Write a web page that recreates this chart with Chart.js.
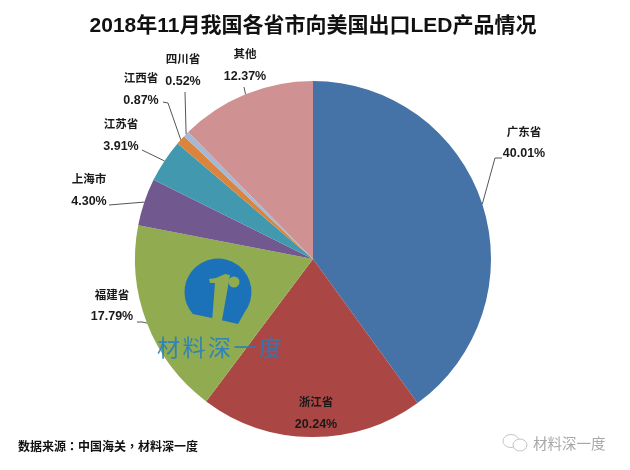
<!DOCTYPE html>
<html><head><meta charset="utf-8">
<style>html,body{margin:0;padding:0;background:#fff}#w{width:630px;height:470px;position:relative}</style>
<script src="https://cdn.jsdelivr.net/npm/chart.js@4"></script>
</head><body><div id="w"><canvas id="c" width="630" height="470"></canvas></div>
<script>
const titleText = '2018年11月我国各省市向美国出口LED产品情况';
const sourceText = '数据来源：中国海关，材料深一度';
const brandText = '材料深一度';
const categories = ['广东省','浙江省','福建省','上海市','江苏省','江西省','四川省','其他'];
const values = [40.01,20.24,17.79,4.30,3.91,0.87,0.52,12.37];
const colors = ['#4572A7','#AA4643','#90AB50','#71588F','#4198AF','#DB843D','#A4B9D6','#CF9191'];
const labelX = [524,316,112,89,121,141,183,245];
const nameY  = [133,403,296,180,125,79,60,55];
const valueY = [154,425,317,202,147,101,82,77];
const leaderPts = [[[502,158],[495,158]],[],[[137,322],[142,322]],[[109,205]],[[142,150]],[[163,102],[168,103]],[[185,92]],[[244,87]]];
const FONT = '"Liberation Sans","Noto Sans CJK SC",sans-serif';

const overlay = {
  id:'overlay',
  afterDatasetsDraw(chart){
    const ctx = chart.ctx, arcs = chart.getDatasetMeta(0).data;
    ctx.save();
    // logo
    const poly = pts => { ctx.beginPath(); pts.forEach((q,k)=>k?ctx.lineTo(q[0],q[1]):ctx.moveTo(q[0],q[1])); ctx.closePath(); ctx.fill(); };
    ctx.fillStyle='#1B72B8';
    ctx.beginPath(); ctx.arc(218,292,33.5,0.66,Math.PI-0.72,true); ctx.lineTo(212,318); ctx.lineTo(238,324); ctx.closePath(); ctx.fill();
    ctx.fillStyle=colors[2];
    poly([[209,279],[216,278],[225,274],[230,275],[221,326],[212,322],[215,283],[210,283]]);
    ctx.beginPath(); ctx.arc(234,282,5.5,0,Math.PI*2); ctx.fill();
    // watermark
    ctx.textAlign='left'; ctx.textBaseline='middle';
    ctx.fillStyle='rgba(35,125,195,0.85)';
    ctx.font='23px "Noto Sans CJK SC",sans-serif'; ctx.letterSpacing='2.5px';
    ctx.fillText(brandText,157,347);
    ctx.letterSpacing='0px';
    // leaders
    ctx.strokeStyle='#555'; ctx.lineWidth=1;
    arcs.forEach((a,i)=>{
      if(!leaderPts[i].length) return;
      const p=a.getProps(['x','y','startAngle','endAngle','outerRadius'],true);
      const m=(p.startAngle+p.endAngle)/2;
      ctx.beginPath();
      leaderPts[i].forEach((q,k)=>k?ctx.lineTo(q[0],q[1]):ctx.moveTo(q[0],q[1]));
      ctx.lineTo(p.x+Math.cos(m)*p.outerRadius,p.y+Math.sin(m)*p.outerRadius);
      ctx.stroke();
    });
    // labels
    ctx.textAlign='center'; ctx.fillStyle='#1a1a1a';
    categories.forEach((n,i)=>{
      ctx.font='bold 11.5px '+FONT;
      ctx.fillText(n,labelX[i],nameY[i]);
      ctx.font='bold 12.5px '+FONT;
      ctx.fillText(values[i].toFixed(2)+'%',labelX[i],valueY[i]);
    });
    // source
    ctx.textAlign='left'; ctx.fillStyle='#111';
    ctx.font='bold 12px "Noto Sans CJK TC",sans-serif';
    ctx.fillText(sourceText,18,446);
    // brand mark
    ctx.fillStyle='#a8a8a8'; ctx.font='14.5px "Noto Sans CJK SC",sans-serif';
    ctx.fillText(brandText,533,443);
    ctx.strokeStyle='#c4c4c4'; ctx.lineWidth=1;
    ctx.beginPath(); ctx.ellipse(511,441,8,6.5,0,0,Math.PI*2); ctx.stroke();
    ctx.fillStyle='#fff';
    ctx.beginPath(); ctx.ellipse(520,445,7,6,0,0,Math.PI*2); ctx.fill(); ctx.stroke();
    ctx.restore();
  }
};

new Chart(document.getElementById('c'),{
  type:'pie',
  data:{labels:categories,datasets:[{data:values,backgroundColor:colors,borderWidth:0}]},
  plugins:[overlay],
  options:{
    responsive:false,animation:false,
    layout:{padding:{left:0,right:4,top:16,bottom:33}},
    plugins:{
      legend:{display:false},tooltip:{enabled:false},
      title:{display:true,text:titleText,color:'#111',font:{family:FONT,size:21,weight:'bold',lineHeight:1},padding:{top:0,bottom:44}}
    }
  }
});
</script></body></html>
